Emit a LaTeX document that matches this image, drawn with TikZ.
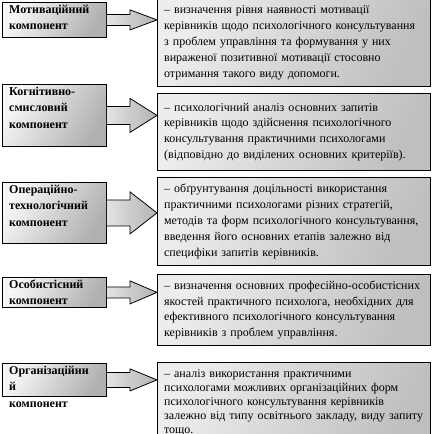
\documentclass[tikz,border=0pt]{standalone}
\usepackage{fontspec}
\setmainfont{Liberation Serif}
\usetikzlibrary{calc}

\begin{document}
\begin{tikzpicture}[x=1pt,y=-1pt,
  every node/.style={font=\fontsize{12}{15.8}\selectfont},
  comp/.style={draw,line width=0.8pt,anchor=north west,minimum width=104pt,inner sep=0pt,
    left color=gray!6,right color=gray!62,shading angle=60},
  ctxt/.style={anchor=north west,inner xsep=7pt,inner ysep=2.5pt,align=left,
    font=\fontsize{12}{16.5}\selectfont\bfseries},
  desc/.style={draw,line width=0.8pt,anchor=north west,minimum width=273pt,text width=259.5pt,
    inner xsep=6.75pt,inner ysep=1pt,align=left,
    left color=gray!14,right color=gray!50,shading angle=65},
  arr/.style={draw,line width=0.8pt,left color=gray!22,right color=gray!60}]
\useasboundingbox (0,0) rectangle (432,434);
\clip (0,0) rectangle (432,434);

% components
\node[comp,minimum height=35pt] (c1) at (2,2) {};
\node[comp,minimum height=62pt] (c2) at (2,84) {};
\node[comp,minimum height=61pt] (c3) at (2,182) {};
\node[comp,minimum height=30pt] (c4) at (2,277) {};
\node[comp,minimum height=33pt] (c5) at (2,363) {};

\node[ctxt] (t1) at (c1.north west) {Мотиваційний\\компонент};
\node[ctxt] (t2) at (c2.north west) {Когнітивно-\\смисловий\\компонент};
\node[ctxt] (t3) at (c3.north west) {Операційно-\\технологічний\\компонент};
\node[ctxt] (t4) at (c4.north west) {Особистісний\\компонент};
\node[ctxt] (t5) at (c5.north west) {Організаційни\\й\\компонент};

% descriptions
\node[desc,minimum height=87pt] (d1) at (157,-1) {– визначення рівня наявності мотивації\\керівників щодо психологічного консультування\\з проблем управління та формування у них\\вираженої позитивної мотивації стосовно\\отримання такого виду допомоги.};
\node[desc,minimum height=77pt] (d2) at (157,93) {– психологічний аналіз основних запитів\\керівників щодо здійснення психологічного\\консультування практичними психологами\\(відповідно до виділених основних критеріїв).};
\node[desc,minimum height=88pt] (d3) at (157,177) {– обґрунтування доцільності використання\\практичними психологами різних стратегій,\\методів та форм психологічного консультування,\\введення його основних етапів залежно від\\специфіки запитів керівників.};
\node[desc,minimum height=71pt] (d4) at (157,274) {– визначення основних професійно-особистісних\\якостей практичного психолога, необхідних для\\ефективного психологічного консультування\\керівників з проблем управління.};
\node[desc,minimum height=81pt,inner ysep=4pt,font=\fontsize{12}{14}\selectfont] (d5) at (157,362) {– аналіз використання практичними\\психологами можливих організаційних форм\\психологічного консультування керівників\\залежно від типу освітнього закладу, виду запиту\\тощо.};

% block arrows
\foreach \i/\sw/\hw in {1/5.5/10,2/9/17,3/13/21,4/5.5/11.5,5/7.5/11}{
  \coordinate (tip\i) at (d\i.west |- c\i.east);
  \path[arr] ($(c\i.east)+(0,-\sw)$) -- ($(tip\i)+(-27,-\sw)$) -- ($(tip\i)+(-27,-\hw)$) -- (tip\i)
    -- ($(tip\i)+(-27,\hw)$) -- ($(tip\i)+(-27,\sw)$) -- ($(c\i.east)+(0,\sw)$);
}
\end{tikzpicture}
\end{document}
